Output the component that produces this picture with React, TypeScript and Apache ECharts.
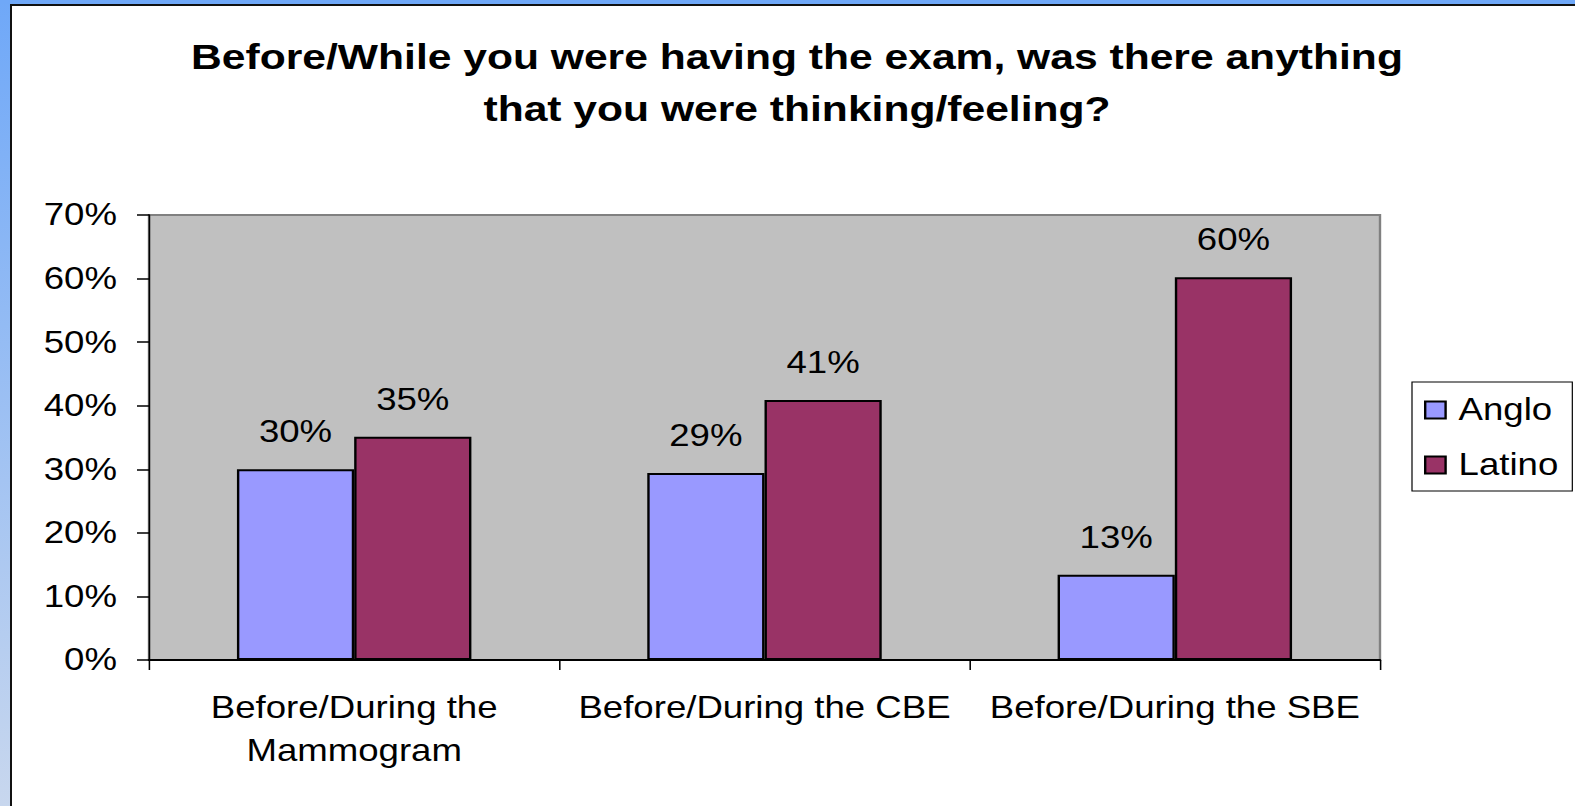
import React, { useEffect, useRef } from "react";
import * as echarts from "echarts";

const titleText = "Before/While you were having the exam, was there anything\nthat you were thinking/feeling?";
const categories = ["Before/During the\nMammogram", "Before/During the CBE", "Before/During the SBE"];
const seriesNames = ["Anglo", "Latino"];
const angloValues = [30, 29.4, 13.4];
const latinoValues = [35.1, 40.9, 60.2];
const yTicks = { min: 0, max: 70, interval: 10 };
const colors = ["#9999FF", "#993366"];

const FONT = "'Liberation Sans', Arial, Helvetica, sans-serif";
// the reference slide is stretched horizontally; reproduce it with a CSS scaleX
const SX = 1.2;
const W = 1575;
const H = 806;
const X = (v: number) => v / SX;

export default function App() {
  const ref = useRef<HTMLDivElement>(null);
  useEffect(() => {
    if (!ref.current) return;
    const chart = echarts.init(ref.current, null, { renderer: "svg" });
    const labelCfg = {
      show: true,
      position: "top" as const,
      distance: 22,
      color: "#000",
      fontSize: 30.5,
      fontFamily: FONT,
      formatter: (p: any) => Math.round(p.value) + "%",
    };
    chart.setOption({
      animation: false,
      backgroundColor: "#ffffff",
      textStyle: { fontFamily: FONT },
      title: {
        text: titleText,
        left: X(791),
        top: 26,
        textAlign: "center",
        textStyle: {
          fontFamily: FONT,
          fontWeight: "bold",
          fontSize: 35.5,
          lineHeight: 52,
          color: "#000",
        },
      },
      legend: {
        orient: "vertical",
        left: X(1412),
        top: 382,
        width: X(130),
        padding: [11, X(14), 9, X(12)],
        borderColor: "#000",
        borderWidth: 1,
        backgroundColor: "#fff",
        itemWidth: 17,
        itemHeight: 17,
        itemGap: 21,
        icon: "rect",
        itemStyle: { borderColor: "#000", borderWidth: 2 },
        textStyle: {
          fontFamily: FONT,
          fontSize: 30.5,
          color: "#000",
          lineHeight: 34,
          padding: [0, 0, 0, X(7)],
        },
        data: seriesNames,
      },
      grid: {
        left: X(149),
        top: 215,
        width: X(1231),
        height: 445,
        show: true,
        backgroundColor: "#C0C0C0",
        borderColor: "#808080",
        borderWidth: 2,
      },
      xAxis: {
        type: "category",
        data: categories,
        axisLine: { show: true, lineStyle: { color: "#000", width: 2 } },
        axisTick: { show: true, length: 10, lineStyle: { color: "#000", width: 1.3 } },
        axisLabel: {
          color: "#000",
          fontSize: 30.5,
          fontFamily: FONT,
          lineHeight: 43,
          margin: 26,
          interval: 0,
        },
      },
      yAxis: {
        type: "value",
        min: yTicks.min,
        max: yTicks.max,
        interval: yTicks.interval,
        axisLine: { show: true, lineStyle: { color: "#000", width: 1.3 } },
        axisTick: { show: true, length: X(12), lineStyle: { color: "#000", width: 1.5 } },
        splitLine: { show: false },
        axisLabel: {
          color: "#000",
          fontSize: 30.5,
          fontFamily: FONT,
          margin: X(32),
          formatter: "{value}%",
        },
      },
      series: [
        {
          name: seriesNames[0],
          type: "bar",
          data: angloValues,
          barGap: "0%",
          barCategoryGap: "42.86%",
          itemStyle: { color: colors[0], borderColor: "#000", borderWidth: 2 },
          label: labelCfg,
        },
        {
          name: seriesNames[1],
          type: "bar",
          data: latinoValues,
          barGap: "0%",
          barCategoryGap: "42.86%",
          itemStyle: { color: colors[1], borderColor: "#000", borderWidth: 2 },
          label: labelCfg,
        },
      ],
      graphic: [
        {
          type: "rect",
          shape: { x: 0, y: 0, width: X(10), height: H },
          style: {
            fill: new echarts.graphic.LinearGradient(0, 0, 0, 1, [
              { offset: 0, color: "#6FA8F8" },
              { offset: 1, color: "#C8D7EE" },
            ]),
          },
          silent: true,
        },
        {
          type: "rect",
          shape: { x: 0, y: 0, width: X(W), height: 4 },
          style: { fill: "#6FA8F8" },
          silent: true,
        },
        {
          type: "line",
          shape: { x1: X(11), y1: 5, x2: X(11), y2: H },
          style: { stroke: "#111", lineWidth: X(2) },
          silent: true,
        },
        {
          type: "line",
          shape: { x1: X(10), y1: 5, x2: X(W), y2: 5 },
          style: { stroke: "#111", lineWidth: 2 },
          silent: true,
        },
      ],
    });
    return () => chart.dispose();
  }, []);
  return (
    <div
      style={{
        position: "fixed",
        left: 0,
        top: 0,
        width: W,
        height: H,
        overflow: "hidden",
        background: "#fff",
      }}
    >
      <div
        ref={ref}
        style={{
          width: Math.ceil(W / SX),
          height: H,
          transform: `scaleX(${SX})`,
          transformOrigin: "0 0",
        }}
      />
    </div>
  );
}
